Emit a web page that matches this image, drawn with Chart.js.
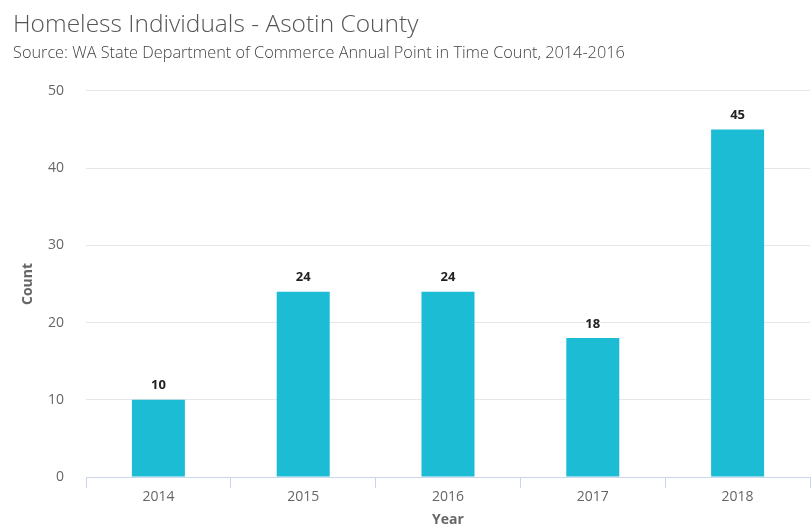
<!DOCTYPE html>
<html>
<head>
<meta charset="utf-8">
<script src="https://cdn.jsdelivr.net/npm/chart.js@4/dist/chart.umd.min.js"></script>
<style>
  html, body { margin: 0; padding: 0; background: #fff; }
  #wrap { width: 812px; height: 529px; position: relative; }
</style>
</head>
<body>
<div id="wrap"><canvas id="kaavio"></canvas></div>
<script>
// data
const vuodet = ['2014', '2015', '2016', '2017', '2018'];
const maarat = [10, 24, 24, 18, 45];
const yTikit = [0, 10, 20, 30, 40, 50];

const fontti = "'Open Sans', 'DejaVu Sans', sans-serif";

// arvot pylväiden päälle
const arvoTekstit = {
  id: 'arvoTekstit',
  afterDatasetsDraw(chart) {
    const { ctx } = chart;
    const meta = chart.getDatasetMeta(0);
    ctx.save();
    ctx.font = 'bold 13px ' + fontti;
    ctx.textAlign = 'center';
    ctx.textBaseline = 'middle';
    ctx.lineWidth = 3;
    ctx.strokeStyle = '#fff';
    ctx.fillStyle = '#222';
    meta.data.forEach((bar, i) => {
      const t = String(maarat[i]);
      ctx.strokeText(t, bar.x, bar.y - 14);
      ctx.fillText(t, bar.x, bar.y - 14);
    });
    ctx.restore();
  }
};

new Chart(document.getElementById('kaavio'), {
  type: 'bar',
  data: {
    labels: vuodet,
    datasets: [{
      data: maarat,
      backgroundColor: '#1bbcd4',
      borderWidth: 0,
      categoryPercentage: 1,
      barPercentage: 0.366
    }]
  },
  options: {
    responsive: true,
    maintainAspectRatio: false,
    animation: false,
    layout: { padding: { left: 13, right: 2, top: 0, bottom: 0 } },
    plugins: {
      legend: { display: false },
      tooltip: { enabled: false },
      title: {
        display: true,
        text: 'Homeless Individuals - Asotin County',
        align: 'start',
        color: '#555',
        font: { family: fontti, size: 24.5, weight: '300' },
        padding: { top: 10, bottom: 1 }
      },
      subtitle: {
        display: true,
        text: 'Source: WA State Department of Commerce Annual Point in Time Count, 2014-2016',
        align: 'start',
        color: '#444',
        font: { family: fontti, size: 16.3, weight: '300' },
        padding: { top: 3, bottom: 28 }
      }
    },
    scales: {
      x: {
        offset: true,
        grid: {
          offset: true,
          drawOnChartArea: false,
          color: '#ccd6eb',
          tickLength: 11
        },
        border: { color: '#ccd6eb' },
        ticks: {
          color: '#666',
          font: { family: fontti, size: 14 },
          padding: 1
        },
        title: {
          display: true,
          text: 'Year',
          color: '#666',
          font: { family: fontti, size: 14, weight: 'bold' },
          padding: { top: 0, bottom: 1 }
        },
        afterFit: (s) => { s.height = 52; }
      },
      y: {
        min: 0,
        max: 50,
        afterBuildTicks: (s) => { s.ticks = yTikit.map(v => ({ value: v })); },
        grid: {
          color: (c) => c.tick && c.tick.value === 0 ? 'rgba(0,0,0,0)' : '#e6e6e6',
          drawTicks: false
        },
        border: { display: false },
        ticks: {
          color: '#666',
          font: { family: fontti, size: 14 },
          padding: 22
        },
        title: {
          display: true,
          text: 'Count',
          color: '#666',
          font: { family: fontti, size: 14, weight: 'bold' },
          padding: { top: 7, bottom: 0 }
        },
        afterFit: (s) => { s.width = 73; }
      }
    }
  },
  plugins: [arvoTekstit]
});
</script>
</body>
</html>
